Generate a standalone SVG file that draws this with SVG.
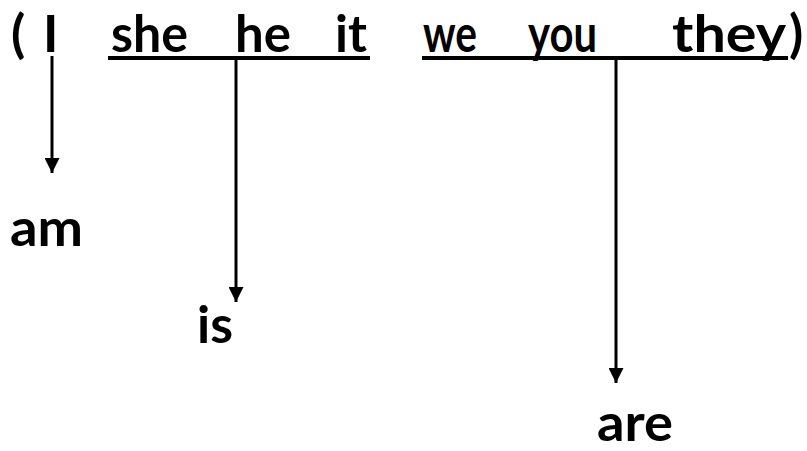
<svg xmlns="http://www.w3.org/2000/svg" width="807" height="451" viewBox="0 0 807 451">
<defs>
<style>
.t{font-family:Lato,"Open Sans","Liberation Sans",sans-serif;font-weight:bold;font-size:52px;fill:#000}
.c{stroke:#000;stroke-width:3;fill:none}
.u{stroke:#000;stroke-width:4}
</style>
<marker id="ah" viewBox="0 0 10 10" refX="10" refY="5" markerWidth="5" markerHeight="5" markerUnits="strokeWidth" orient="auto">
<path d="M0,0L10,5L0,10z" fill="#000"/>
</marker>
</defs>
<g id="pronouns">
<text class="t" x="11" y="52">(</text>
<text class="t" x="43" y="52">I</text>
<text class="t" x="111" y="52" textLength="77" lengthAdjust="spacingAndGlyphs">she</text>
<text class="t" x="235" y="52" textLength="56" lengthAdjust="spacingAndGlyphs">he</text>
<text class="t" x="335" y="52" textLength="32" lengthAdjust="spacingAndGlyphs">it</text>
<line class="u" x1="108" y1="58" x2="370" y2="58"/>
<text class="t" x="423" y="52" textLength="54" lengthAdjust="spacingAndGlyphs">we</text>
<text class="t" x="528" y="52" textLength="69" lengthAdjust="spacingAndGlyphs">you</text>
<text class="t" x="672" y="52" textLength="114" lengthAdjust="spacingAndGlyphs">they</text>
<text class="t" x="789" y="52">)</text>
<line class="u" x1="422" y1="58" x2="788" y2="58"/>
</g>
<g id="connectors">
<line class="c" x1="52" y1="56" x2="52" y2="173" marker-end="url(#ah)"/>
<line class="c" x1="236" y1="58" x2="236" y2="302" marker-end="url(#ah)"/>
<line class="c" x1="616" y1="58" x2="616" y2="383" marker-end="url(#ah)"/>
</g>
<g id="am"><text class="t" x="10" y="246" textLength="73" lengthAdjust="spacingAndGlyphs">am</text></g>
<g id="is"><text class="t" x="197" y="343" textLength="36" lengthAdjust="spacingAndGlyphs">is</text></g>
<g id="are"><text class="t" x="597" y="441" textLength="76" lengthAdjust="spacingAndGlyphs">are</text></g>
</svg>
